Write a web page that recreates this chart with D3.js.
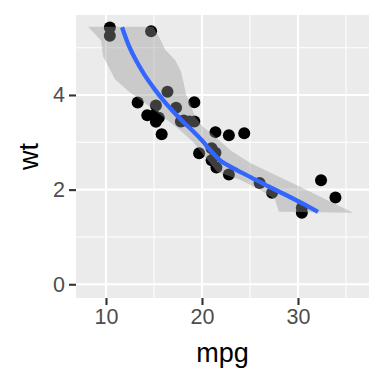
<!DOCTYPE html>
<html><head><meta charset="utf-8">
<script src="https://cdn.jsdelivr.net/npm/d3@7"></script>
<style>body{margin:0;background:#fff}svg{display:block}</style>
</head><body>
<script>
// mtcars mpg vs wt
const mpg = [21.0,21.0,22.8,21.4,18.7,18.1,14.3,24.4,22.8,19.2,17.8,16.4,17.3,15.2,10.4,10.4,14.7,32.4,30.4,33.9,21.5,15.5,15.2,13.3,19.2,27.3,26.0,30.4,15.8,19.7,15.0,21.4];
const wt  = [2.620,2.875,2.320,3.215,3.440,3.460,3.570,3.190,3.150,3.440,3.440,4.070,3.730,3.780,5.250,5.424,5.345,2.200,1.615,1.835,2.465,3.520,3.435,3.840,3.845,1.935,2.140,1.513,3.170,2.770,3.570,2.780];
// smooth line
const lineX = [11.67,12.3,13.0,14.0,15.0,16.0,17.0,18.0,19.0,20.0,21.0,22.0,23.0,25.0,27.0,29.0,31.0,32.08];
const lineY = [5.43,5.08,4.78,4.43,4.14,3.88,3.65,3.44,3.25,3.04,2.80,2.60,2.48,2.27,2.06,1.86,1.65,1.53];
// ribbon bounds
const upperX = [8.13,14.9,15.6,16.15,17.19,17.8,18.1,18.33,18.75,19.27,20.1,21.35,22.92,25.0,27.08,30.21,35.73];
const upperY = [5.44,5.44,5.2,4.96,4.74,4.5,4.25,4.01,3.84,3.54,3.33,3.12,2.84,2.57,2.36,2.06,1.51];
const lowerX = [8.13,9.48,9.69,10.94,12.4,13.85,15.63,17.4,19.06,20.52,21.56,23.96,26.04,27.6,28.02,35.73];
const lowerY = [5.44,5.15,4.82,4.33,4.07,3.86,3.59,3.31,3.01,2.64,2.38,2.21,2.0,1.79,1.53,1.51];
const xTicks = [10,20,30], xMinor = [15,25,35];
const yTicks = [0,2,4], yMinor = [1,3,5];

const W=384,H=384, L=76,R=369,T=15,B=298;
const x = d3.scaleLinear().domain([6.875,37.396]).range([L,R]);
const y = d3.scaleLinear().domain([-0.29,5.69]).range([B,T]);
const svg = d3.select("body").append("svg").attr("width",W).attr("height",H);
svg.append("rect").attr("width",W).attr("height",H).attr("fill","#fff");
svg.append("defs").append("clipPath").attr("id","clip").append("rect")
  .attr("x",L).attr("y",T).attr("width",R-L).attr("height",B-T);
svg.append("rect").attr("x",L).attr("y",T).attr("width",R-L).attr("height",B-T).attr("fill","#EBEBEB");
const g = svg.append("g").attr("clip-path","url(#clip)");
xMinor.forEach(v=>g.append("line").attr("x1",x(v)).attr("x2",x(v)).attr("y1",T).attr("y2",B).attr("stroke","#fff").attr("stroke-width",1.05));
yMinor.forEach(v=>g.append("line").attr("y1",y(v)).attr("y2",y(v)).attr("x1",L).attr("x2",R).attr("stroke","#fff").attr("stroke-width",1.05));
xTicks.forEach(v=>g.append("line").attr("x1",x(v)).attr("x2",x(v)).attr("y1",T).attr("y2",B).attr("stroke","#fff").attr("stroke-width",2.1));
yTicks.forEach(v=>g.append("line").attr("y1",y(v)).attr("y2",y(v)).attr("x1",L).attr("x2",R).attr("stroke","#fff").attr("stroke-width",2.1));

// points
g.selectAll("circle").data(mpg.map((m,i)=>[m,wt[i]])).join("circle")
  .attr("cx",d=>x(d[0])).attr("cy",d=>y(d[1])).attr("r",6).attr("fill","#000");

// ribbon
const poly = upperX.map((v,i)=>[v,upperY[i]]).concat(lowerX.map((v,i)=>[v,lowerY[i]]).reverse());
g.append("path").attr("d", d3.line().x(d=>x(d[0])).y(d=>y(d[1])).curve(d3.curveLinearClosed)(poly))
  .attr("fill","#999999").attr("fill-opacity",0.4);
// line
g.append("path").attr("d", d3.line().x(d=>x(d[0])).y(d=>y(d[1])).curve(d3.curveMonotoneX)(lineX.map((v,i)=>[v,lineY[i]])))
  .attr("fill","none").attr("stroke","#3366FF").attr("stroke-width",4.3).attr("stroke-linecap","butt");

// axes
const xa = svg.append("g").attr("transform",`translate(0,${B})`)
  .call(d3.axisBottom(x).tickValues(xTicks).tickSize(7).tickPadding(4).tickFormat(d3.format("d")));
const ya = svg.append("g").attr("transform",`translate(${L},0)`)
  .call(d3.axisLeft(y).tickValues(yTicks).tickSize(7).tickPadding(4).tickFormat(d3.format("d")));
[xa,ya].forEach(a=>{
  a.select(".domain").remove();
  a.selectAll(".tick line").attr("stroke","#333").attr("stroke-width",2.1);
  a.selectAll(".tick text").attr("fill","#4D4D4D").attr("font-family","Liberation Sans, Arial, sans-serif").attr("font-size",21.5);
});
svg.append("text").attr("x",(L+R)/2).attr("y",362).attr("text-anchor","middle")
  .attr("font-family","Liberation Sans, Arial, sans-serif").attr("font-size",27).attr("fill","#000").text("mpg");
svg.append("text").attr("transform",`translate(38,${(T+B)/2}) rotate(-90)`).attr("text-anchor","middle")
  .attr("font-family","Liberation Sans, Arial, sans-serif").attr("font-size",27).attr("fill","#000").text("wt");
</script>
</body></html>
